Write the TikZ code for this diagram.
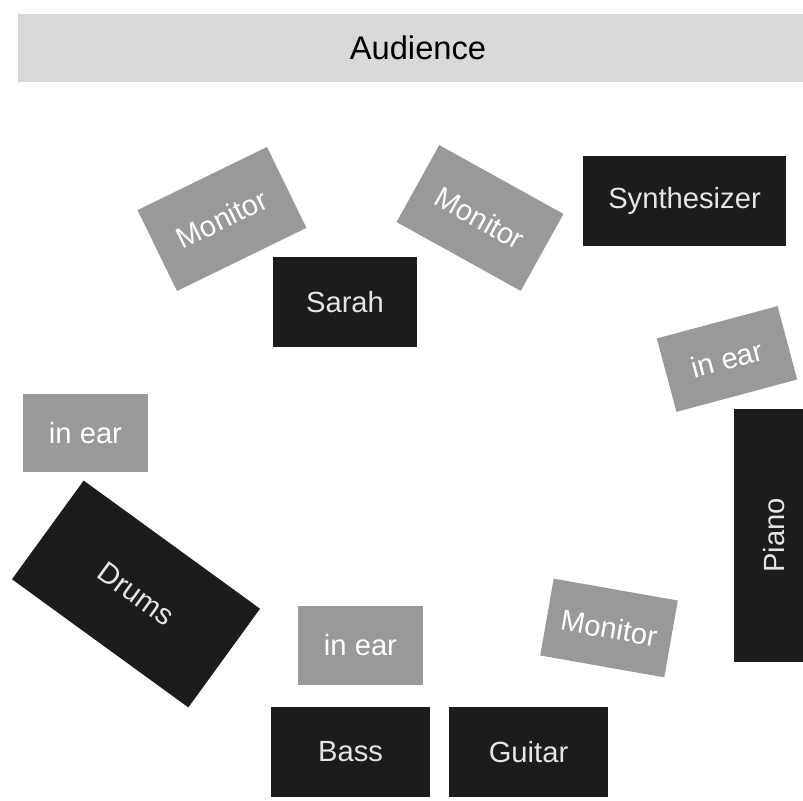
\documentclass[tikz,border=0pt]{standalone}
\usepackage{fontspec}
\setmainfont{Liberation Sans}
\definecolor{blk}{HTML}{1C1C1C}
\definecolor{gry}{HTML}{999999}
\definecolor{aud}{HTML}{D9D9D9}
\begin{document}
\begin{tikzpicture}[x=0.01cm,y=-0.01cm,
  box/.style={inner sep=0pt, anchor=center, font=\fontsize{8.3}{10}\selectfont},
  dark/.style={box, fill=blk, text=white!90!black},
  light/.style={box, fill=gry, text=white},
  sz/.style 2 args={minimum width=#1*0.01cm, minimum height=#2*0.01cm}
]
\useasboundingbox (0,0) rectangle (803,801);
\node[box, fill=aud, text=black, font=\fontsize{9.3}{11}\selectfont, sz={800}{68}] (audience) at (418,48) {Audience};
\node[light, sz={144}{90}, rotate=26] (mon1) at (222,219) {Monitor};
\node[light, sz={142}{88}, rotate=-29] (mon2) at (480,218) {Monitor};
\node[dark, sz={203}{90}] (synth) at (684.5,201) {Synthesizer};
\node[dark, sz={144}{90}] (sarah) at (345,302) {Sarah};
\node[light, sz={125}{76}, rotate=15] (ear1) at (727,359) {in ear};
\node[light, sz={125}{78}] (ear2) at (85.5,433) {in ear};
\node[dark, sz={218}{122}, rotate=-36] (drums) at (136,594) {Drums};
\node[dark, sz={253}{80}, rotate=90] (piano) at (774,535.5) {Piano};
\node[light, sz={126}{78}, rotate=-10] (mon3) at (609,628) {Monitor};
\node[light, sz={125}{79}] (ear3) at (360.5,645.5) {in ear};
\node[dark, sz={159}{90}] (bass) at (350.5,752) {Bass};
\node[dark, sz={159}{90}] (guitar) at (528.5,752) {Guitar};
\end{tikzpicture}
\end{document}
